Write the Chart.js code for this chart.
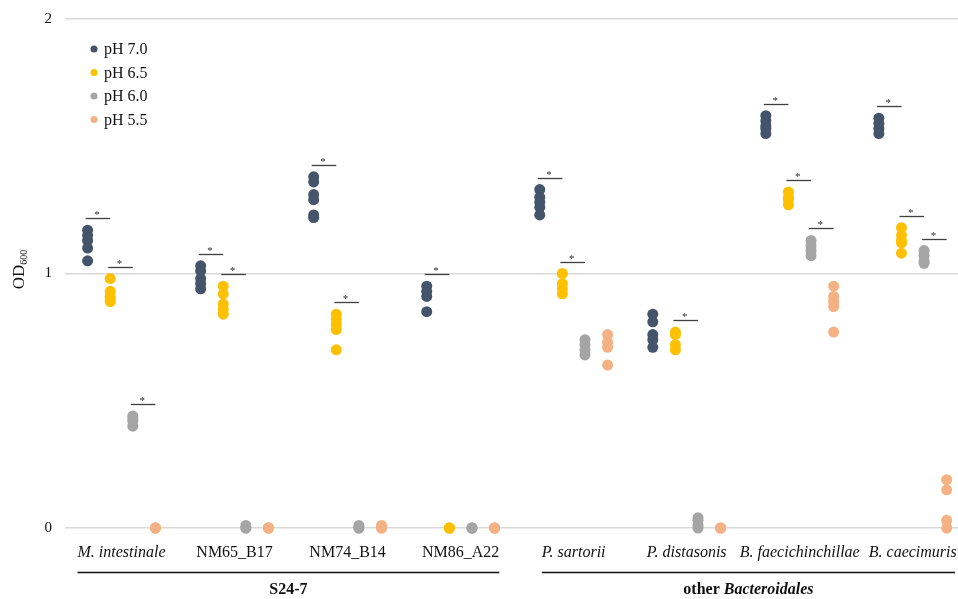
<!DOCTYPE html>
<html>
<head>
<meta charset="utf-8">
<script src="https://cdn.jsdelivr.net/npm/chart.js@4.4.0/dist/chart.umd.min.js"></script>
<style>
  html, body { margin: 0; padding: 0; background: #fff; }
</style>
</head>
<body>
<canvas id="myChart" width="958" height="599"></canvas>
<script>
// Strains along the x axis
const groups = ['M. intestinale', 'NM65_B17', 'NM74_B14', 'NM86_A22', 'P. sartorii', 'P. distasonis', 'B. faecichinchillae', 'B. caecimuris'];
const italicGroups = [true, false, false, false, true, true, true, true];
const phLabels = ['pH 7.0', 'pH 6.5', 'pH 6.0', 'pH 5.5'];
const phColors = ['#44546A', '#FFC000', '#A5A5A5', '#F4B183'];
const yTicks = [0, 1, 2];

// OD600 replicates, one list per strain
const ph70 = [
  [1.17, 1.15, 1.13, 1.10, 1.05],
  [1.03, 1.01, 0.98, 0.96, 0.94],
  [1.38, 1.36, 1.31, 1.29, 1.23, 1.22],
  [0.95, 0.93, 0.91, 0.85],
  [1.33, 1.30, 1.28, 1.26, 1.23],
  [0.84, 0.81, 0.76, 0.74, 0.71],
  [1.62, 1.60, 1.58, 1.57, 1.55],
  [1.61, 1.59, 1.57, 1.55]
];
const ph65 = [
  [0.98, 0.93, 0.91, 0.90, 0.89],
  [0.95, 0.92, 0.88, 0.86, 0.84],
  [0.84, 0.82, 0.80, 0.78, 0.70],
  [0.00, 0.00, 0.00],
  [1.00, 0.96, 0.94, 0.92],
  [0.77, 0.76, 0.72, 0.70],
  [1.32, 1.30, 1.29, 1.27],
  [1.18, 1.15, 1.13, 1.12, 1.08]
];
const ph60 = [
  [0.44, 0.43, 0.42, 0.40],
  [0.01, 0.00, 0.00],
  [0.01, 0.00, 0.00],
  [0.00, 0.00, 0.00],
  [0.74, 0.72, 0.70, 0.68],
  [0.04, 0.03, 0.01, 0.00],
  [1.13, 1.11, 1.09, 1.07],
  [1.09, 1.07, 1.05, 1.04]
];
const ph55 = [
  [0.00, 0.00, 0.00],
  [0.00, 0.00, 0.00],
  [0.01, 0.00, 0.00],
  [0.00, 0.00, 0.00],
  [0.76, 0.73, 0.71, 0.64],
  [0.00, 0.00, 0.00],
  [0.95, 0.91, 0.89, 0.87, 0.77],
  [0.19, 0.15, 0.03, 0.00]
];

// * bar above a pH series in a strain (1 = significant)
const sig70 = [1, 1, 1, 1, 1, 0, 1, 1];
const sig65 = [1, 1, 1, 0, 1, 1, 1, 1];
const sig60 = [1, 0, 0, 0, 0, 0, 1, 1];
const sig55 = [0, 0, 0, 0, 0, 0, 0, 0];

// Clade brackets under the strain names: [first strain, last strain, text parts]
const clades = [
  [0, 3, [['S24-7', false]]],
  [4, 7, [['other ', false], ['Bacteroidales', true]]]
];

const allSeries = [ph70, ph65, ph60, ph55];
const allSig = [sig70, sig65, sig60, sig55];
const SERIF = "'Liberation Serif', 'Times New Roman', serif";
const slot = 0.2; // width of one pH slot inside a strain

// x position of pH j inside strain i
let posOf = (i, j) => i + (j - 1.5) * slot;
let tickFont = (i) => (italicGroups[i] ? 'italic ' : '') + '16px ' + SERIF;

let datasets = allSeries.map((series, j) => ({
  label: phLabels[j],
  data: series.flatMap((reps, i) => reps.map(v => ({ x: posOf(i, j), y: v }))),
  backgroundColor: phColors[j],
  borderColor: phColors[j],
  borderWidth: 0,
  pointRadius: 5.5,
  pointHoverRadius: 5.5,
  showLine: false,
  clip: false
}));

// stars, legend, axis title and clade brackets
const extras = {
  id: 'extras',
  afterDatasetsDraw(chart) {
    const ctx = chart.ctx;
    const xs = chart.scales.x;
    const ys = chart.scales.y;
    ctx.save();

    // significance bars
    allSig.forEach((sig, j) => {
      sig.forEach((s, i) => {
        if (!s) return;
        let top = Math.max(...allSeries[j][i]);
        let x0 = xs.getPixelForValue(posOf(i, j)) - 2;
        let x1 = xs.getPixelForValue(posOf(i, j) + slot);
        let y = Math.round(ys.getPixelForValue(top) - 12) + 0.5;
        ctx.strokeStyle = '#404040';
        ctx.lineWidth = 1.3;
        ctx.beginPath();
        ctx.moveTo(x0, y);
        ctx.lineTo(x1, y);
        ctx.stroke();
        ctx.fillStyle = '#303030';
        ctx.font = '11px ' + SERIF;
        ctx.textAlign = 'center';
        ctx.textBaseline = 'alphabetic';
        ctx.fillText('*', (x0 + x1) / 2 - 1, y - 1);
      });
    });

    // legend
    chart.data.datasets.forEach((ds, j) => {
      let y = 49 + j * 23.5;
      ctx.fillStyle = ds.backgroundColor;
      ctx.beginPath();
      ctx.arc(94, y, 3.5, 0, Math.PI * 2);
      ctx.fill();
      ctx.fillStyle = '#111';
      ctx.font = '16px ' + SERIF;
      ctx.textAlign = 'left';
      ctx.textBaseline = 'middle';
      ctx.fillText(ds.label, 104, y + 1);
    });

    // y axis title OD600
    ctx.save();
    ctx.translate(24, (ys.top + ys.bottom) / 2 - 4);
    ctx.rotate(-Math.PI / 2);
    ctx.fillStyle = '#111';
    ctx.textAlign = 'left';
    ctx.textBaseline = 'alphabetic';
    ctx.font = '17px ' + SERIF;
    let odW = ctx.measureText('OD').width;
    let subFont = '10px ' + SERIF;
    ctx.font = subFont;
    let subW = ctx.measureText('600').width;
    let start = -(odW + subW) / 2;
    ctx.font = '17px ' + SERIF;
    ctx.fillText('OD', start, 0);
    ctx.font = subFont;
    ctx.fillText('600', start + odW, 3);
    ctx.restore();

    // clade brackets, spanning the strain names they group
    clades.forEach(([from, to, parts]) => {
      ctx.font = tickFont(from);
      let x0 = xs.getPixelForValue(from) - ctx.measureText(groups[from]).width / 2;
      ctx.font = tickFont(to);
      let x1 = Math.min(xs.getPixelForValue(to) + ctx.measureText(groups[to]).width / 2, chart.width - 3);
      ctx.strokeStyle = '#111';
      ctx.lineWidth = 1.5;
      ctx.beginPath();
      ctx.moveTo(x0, 572.5);
      ctx.lineTo(x1, 572.5);
      ctx.stroke();
      let widths = parts.map(([t, it]) => {
        ctx.font = (it ? 'italic ' : '') + 'bold 16px ' + SERIF;
        return ctx.measureText(t).width;
      });
      let total = widths.reduce((a, b) => a + b, 0);
      let cx = (x0 + x1) / 2 - total / 2;
      ctx.fillStyle = '#111';
      ctx.textAlign = 'left';
      ctx.textBaseline = 'middle';
      parts.forEach(([t, it], k) => {
        ctx.font = (it ? 'italic ' : '') + 'bold 16px ' + SERIF;
        ctx.fillText(t, cx, 590);
        cx += widths[k];
      });
    });

    ctx.restore();
  }
};

var context = document.getElementById('myChart').getContext('2d');
var myChart = new Chart(context, {
  type: 'scatter',
  data: { datasets: datasets },
  options: {
    responsive: false,
    animation: false,
    devicePixelRatio: 1,
    layout: { autoPadding: false, padding: { left: 44, top: 19, right: 0, bottom: 37 } },
    plugins: {
      legend: { display: false },
      tooltip: { enabled: false }
    },
    scales: {
      x: {
        type: 'linear',
        min: -0.5,
        max: 7.4,
        afterBuildTicks: (scale) => { scale.ticks = groups.map((_, i) => ({ value: i })); },
        afterFit: (scale) => { scale.height = 34; scale.paddingLeft = 0; scale.paddingRight = 0; },
        grid: { display: false, drawTicks: false },
        border: { display: false },
        ticks: {
          autoSkip: false,
          maxRotation: 0,
          padding: 15,
          color: '#111',
          callback: (value) => groups[value],
          font: (c) => ({ family: SERIF, size: 16, style: italicGroups[c.index] ? 'italic' : 'normal' })
        }
      },
      y: {
        min: 0,
        max: 2,
        afterBuildTicks: (scale) => { scale.ticks = yTicks.map(v => ({ value: v })); },
        afterFit: (scale) => { scale.width = 21; scale.paddingTop = 0; scale.paddingBottom = 0; },
        grid: { color: '#d9d9d9', lineWidth: 1.5, drawTicks: false },
        border: { display: false },
        ticks: {
          padding: 13,
          color: '#111',
          font: { family: SERIF, size: 15 }
        }
      }
    }
  },
  plugins: [extras]
});
</script>
</body>
</html>
